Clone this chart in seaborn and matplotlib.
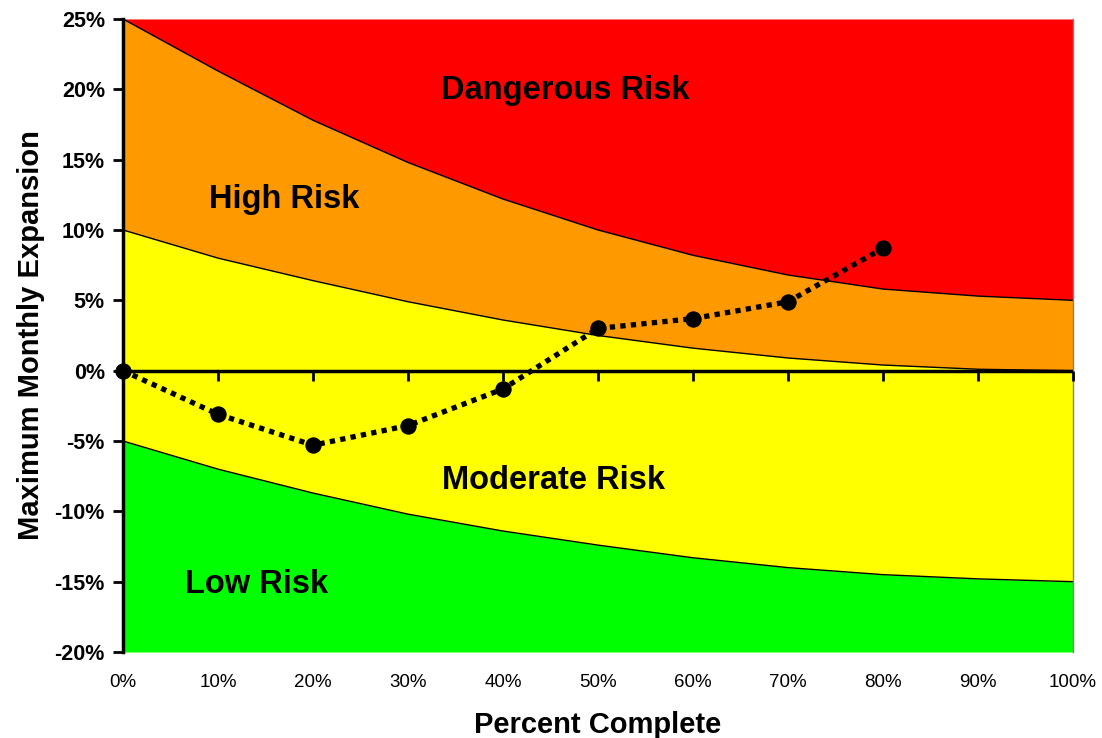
import matplotlib
matplotlib.use("Agg")
import matplotlib.pyplot as plt
import pandas as pd
import numpy as np
import seaborn as sns

# Données (en %)
pct_complete = [0, 10, 20, 30, 40, 50, 60, 70, 80, 90, 100]
danger_limit = [25, 21.3, 17.8, 14.8, 12.2, 10.0, 8.2, 6.8, 5.8, 5.3, 5.0]
high_limit = [10, 8.0, 6.4, 4.9, 3.6, 2.5, 1.6, 0.9, 0.4, 0.1, 0.0]
low_limit = [-5, -7.0, -8.7, -10.2, -11.4, -12.4, -13.3, -14.0, -14.5, -14.8, -15.0]

project_x = [0, 10, 20, 30, 40, 50, 60, 70, 80]
project_y = [0, -3.1, -5.3, -3.9, -1.3, 3.0, 3.7, 4.9, 8.7]

y_ticks = [25, 20, 15, 10, 5, 0, -5, -10, -15, -20]
x_ticks = [0, 10, 20, 30, 40, 50, 60, 70, 80, 90, 100]

zones = ["Dangerous Risk", "High Risk", "Moderate Risk", "Low Risk"]
zone_x = [46.6, 17.0, 45.3, 14.1]
zone_y = [19.9, 12.2, -7.8, -15.2]

sns.set_style("white")
plt.rcParams['font.family'] = ['Liberation Sans', 'DejaVu Sans']
plt.rcParams['text.color'] = 'black'
plt.rcParams['axes.labelcolor'] = 'black'
plt.rcParams['xtick.color'] = 'black'
plt.rcParams['ytick.color'] = 'black'

fig = plt.figure(figsize=(11.02, 7.38), dpi=100)
ax = fig.add_axes([0.1116, 0.1165, 0.8621, 0.8578])

y_top, y_bot = 25, -20
ax.fill_between(pct_complete, danger_limit, y_top, color='#FF0000', lw=0)
ax.fill_between(pct_complete, high_limit, danger_limit, color='#FF9900', lw=0)
ax.fill_between(pct_complete, low_limit, high_limit, color='#FFFF00', lw=0)
ax.fill_between(pct_complete, y_bot, low_limit, color='#00FF00', lw=0)
for limit in [danger_limit, high_limit, low_limit]:
    ax.plot(pct_complete, limit, color='black', lw=1)

# ligne du zéro avec graduations vers le bas
ax.axhline(0, color='black', lw=2.5, zorder=3)
ax.plot(x_ticks, [0] * len(x_ticks), ls='none', marker=3, markersize=7,
        mew=2, color='black', zorder=3, clip_on=False)

df = pd.DataFrame({'x': project_x, 'y': project_y})
sns.lineplot(data=df, x='x', y='y', ax=ax, color='black', lw=3.8,
             linestyle=(0, (1, 1)), marker='o', markersize=11,
             markeredgecolor='black', zorder=5, clip_on=False)

for name, zx, zy in zip(zones, zone_x, zone_y):
    ax.text(zx, zy, name, ha='center', va='center', fontsize=23.5,
            fontweight='bold', color='black')

ax.set_xlim(0, 100)
ax.set_ylim(y_bot, y_top)

ax.set_yticks(y_ticks)
ax.set_yticklabels([f"{v}%" for v in y_ticks], fontsize=15.5, fontweight='bold')
ax.set_xticks(x_ticks)
ax.set_xticklabels([f"{v}%" for v in x_ticks], fontsize=13.5)
ax.tick_params(axis='x', length=0, pad=16)
ax.tick_params(axis='y', direction='out', length=7, width=2, left=True, pad=6)

ax.spines['top'].set_visible(False)
ax.spines['bottom'].set_visible(False)
ax.spines['right'].set_color('#808080')
ax.spines['right'].set_linewidth(1)
ax.spines['left'].set_linewidth(2.5)
ax.spines['left'].set_color('black')

ax.set_xlabel("Percent Complete", fontsize=21, fontweight='bold', labelpad=14)
ax.set_ylabel("Maximum Monthly Expansion", fontsize=21, fontweight='bold', labelpad=7)

fig.savefig("out.png", dpi=100)
